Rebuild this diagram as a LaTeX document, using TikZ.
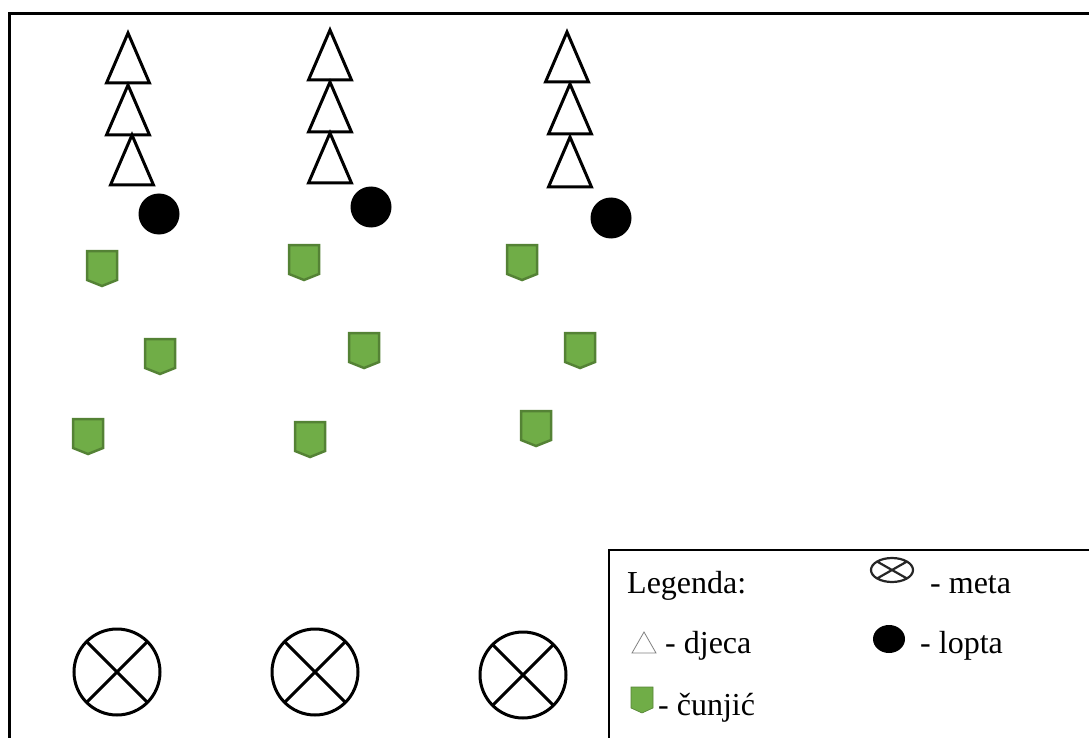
\documentclass[tikz,border=0pt]{standalone}
\usepackage{fontspec}
\setmainfont{Liberation Serif}
\definecolor{cunjfill}{HTML}{70AD47}
\definecolor{cunjline}{HTML}{548235}
\begin{document}
\begin{tikzpicture}[x=1pt,y=-1pt,
    dijete/.style={draw,line width=3pt,line join=miter,fill=white},
    cunj/.style={draw=cunjline,fill=cunjfill,line width=2.5pt,line join=miter},
    metacirc/.style={draw,line width=3pt},
    legtext/.style={anchor=base west,inner sep=0pt,font=\fontsize{32}{38}\selectfont}]
    \useasboundingbox (0,0) rectangle (1089,738);
    \draw[line width=3pt] (9.5,738) -- (9.5,14) -- (1089,14);
    % djeca u kolonama
    \foreach \x/\y in {128/33,128/85,132/135,330/30,330/82,330/133,567/32,570/84,570/137}
        \draw[dijete] (\x,\y) -- ++(21.5,50) -- ++(-43,0) -- cycle;
    % lopte
    \foreach \x/\y in {159/214,371/207,611/218}
        \fill (\x,\y) circle (20.5);
    % cunjici
    \foreach \x/\y in {102/250,160/338,88/418,304/244,364/332,310/421,522/244,580/332,536/410}
        \draw[cunj] (\x-15,\y+1) -- ++(30,0) -- ++(0,29) -- ++(-15,6) -- ++(-15,-6) -- cycle;
    % mete
    \foreach \x/\y in {117/672,315/672,523/675}
        \draw[metacirc] (\x,\y) circle (43) (\x,\y) +(45:43) -- +(225:43) +(135:43) -- +(-45:43);
    % legenda
    \draw[line width=1.5pt] (609,738) -- (609,550) -- (1089,550);
    \node[legtext] (legenda) at (627,593) {Legenda:};
    \draw[line width=2.2pt,draw=black!85] (892,570) ellipse (21 and 12)
        (892,570) +(15,8.5) -- +(-15,-8.5) +(-15,8.5) -- +(15,-8.5);
    \node[legtext] (metatxt) at (930,593) {- meta};
    \draw[gray,line width=0.8pt] (632,653) -- (656,653) -- (644,632) -- cycle;
    \node[legtext] (djecatxt) at (665,653) {- djeca};
    \fill (889,639) ellipse (16 and 14);
    \node[legtext] (loptatxt) at (920,653) {- lopta};
    \draw[draw=cunjline,fill=cunjfill,line width=0.6pt] (631,687) -- (653,687) -- (653,708) -- (642,713) -- (631,708) -- cycle;
    \node[legtext] (cunjtxt) at (658,715) {- čunjić};
\end{tikzpicture}
\end{document}
